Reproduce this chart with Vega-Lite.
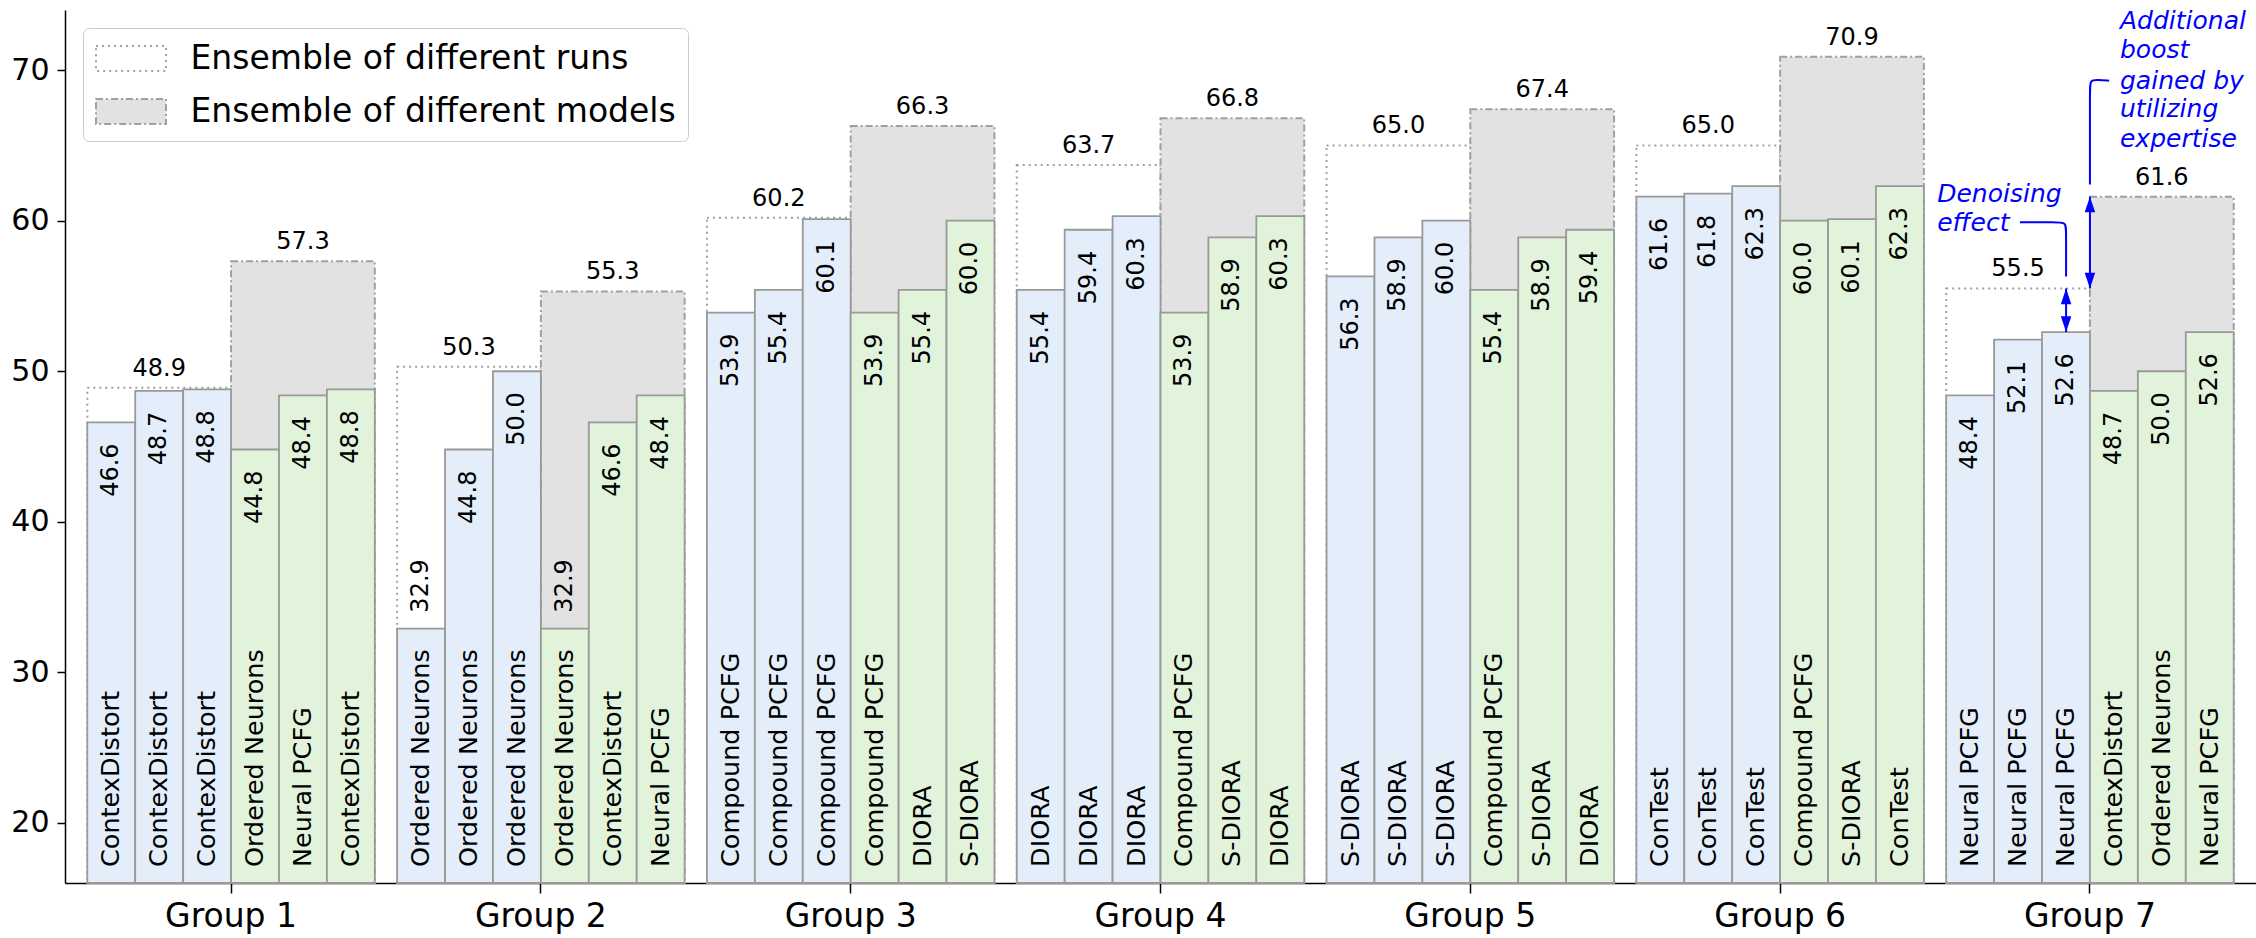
{
  "$schema": "https://vega.github.io/schema/vega-lite/v6.json",
  "autosize": {"type": "none"},
  "padding": {"left": 65, "top": 10, "right": 0, "bottom": 55},
  "width": 2191,
  "height": 873,
  "datasets": {
    "bars": [
      {"group": "Group 1", "slot": 0, "kind": "runs", "model": "ContexDistort", "value": 46.6},
      {"group": "Group 1", "slot": 1, "kind": "runs", "model": "ContexDistort", "value": 48.7},
      {"group": "Group 1", "slot": 2, "kind": "runs", "model": "ContexDistort", "value": 48.8},
      {"group": "Group 1", "slot": 3, "kind": "models", "model": "Ordered Neurons", "value": 44.8},
      {"group": "Group 1", "slot": 4, "kind": "models", "model": "Neural PCFG", "value": 48.4},
      {"group": "Group 1", "slot": 5, "kind": "models", "model": "ContexDistort", "value": 48.8},
      {"group": "Group 2", "slot": 0, "kind": "runs", "model": "Ordered Neurons", "value": 32.9},
      {"group": "Group 2", "slot": 1, "kind": "runs", "model": "Ordered Neurons", "value": 44.8},
      {"group": "Group 2", "slot": 2, "kind": "runs", "model": "Ordered Neurons", "value": 50.0},
      {"group": "Group 2", "slot": 3, "kind": "models", "model": "Ordered Neurons", "value": 32.9},
      {"group": "Group 2", "slot": 4, "kind": "models", "model": "ContexDistort", "value": 46.6},
      {"group": "Group 2", "slot": 5, "kind": "models", "model": "Neural PCFG", "value": 48.4},
      {"group": "Group 3", "slot": 0, "kind": "runs", "model": "Compound PCFG", "value": 53.9},
      {"group": "Group 3", "slot": 1, "kind": "runs", "model": "Compound PCFG", "value": 55.4},
      {"group": "Group 3", "slot": 2, "kind": "runs", "model": "Compound PCFG", "value": 60.1},
      {"group": "Group 3", "slot": 3, "kind": "models", "model": "Compound PCFG", "value": 53.9},
      {"group": "Group 3", "slot": 4, "kind": "models", "model": "DIORA", "value": 55.4},
      {"group": "Group 3", "slot": 5, "kind": "models", "model": "S-DIORA", "value": 60.0},
      {"group": "Group 4", "slot": 0, "kind": "runs", "model": "DIORA", "value": 55.4},
      {"group": "Group 4", "slot": 1, "kind": "runs", "model": "DIORA", "value": 59.4},
      {"group": "Group 4", "slot": 2, "kind": "runs", "model": "DIORA", "value": 60.3},
      {"group": "Group 4", "slot": 3, "kind": "models", "model": "Compound PCFG", "value": 53.9},
      {"group": "Group 4", "slot": 4, "kind": "models", "model": "S-DIORA", "value": 58.9},
      {"group": "Group 4", "slot": 5, "kind": "models", "model": "DIORA", "value": 60.3},
      {"group": "Group 5", "slot": 0, "kind": "runs", "model": "S-DIORA", "value": 56.3},
      {"group": "Group 5", "slot": 1, "kind": "runs", "model": "S-DIORA", "value": 58.9},
      {"group": "Group 5", "slot": 2, "kind": "runs", "model": "S-DIORA", "value": 60.0},
      {"group": "Group 5", "slot": 3, "kind": "models", "model": "Compound PCFG", "value": 55.4},
      {"group": "Group 5", "slot": 4, "kind": "models", "model": "S-DIORA", "value": 58.9},
      {"group": "Group 5", "slot": 5, "kind": "models", "model": "DIORA", "value": 59.4},
      {"group": "Group 6", "slot": 0, "kind": "runs", "model": "ConTest", "value": 61.6},
      {"group": "Group 6", "slot": 1, "kind": "runs", "model": "ConTest", "value": 61.8},
      {"group": "Group 6", "slot": 2, "kind": "runs", "model": "ConTest", "value": 62.3},
      {"group": "Group 6", "slot": 3, "kind": "models", "model": "Compound PCFG", "value": 60.0},
      {"group": "Group 6", "slot": 4, "kind": "models", "model": "S-DIORA", "value": 60.1},
      {"group": "Group 6", "slot": 5, "kind": "models", "model": "ConTest", "value": 62.3},
      {"group": "Group 7", "slot": 0, "kind": "runs", "model": "Neural PCFG", "value": 48.4},
      {"group": "Group 7", "slot": 1, "kind": "runs", "model": "Neural PCFG", "value": 52.1},
      {"group": "Group 7", "slot": 2, "kind": "runs", "model": "Neural PCFG", "value": 52.6},
      {"group": "Group 7", "slot": 3, "kind": "models", "model": "ContexDistort", "value": 48.7},
      {"group": "Group 7", "slot": 4, "kind": "models", "model": "Ordered Neurons", "value": 50.0},
      {"group": "Group 7", "slot": 5, "kind": "models", "model": "Neural PCFG", "value": 52.6}
    ],
    "ensembles": [
      {"group": "Group 1", "ensemble": "Ensemble of different runs", "value": 48.9},
      {"group": "Group 1", "ensemble": "Ensemble of different models", "value": 57.3},
      {"group": "Group 2", "ensemble": "Ensemble of different runs", "value": 50.3},
      {"group": "Group 2", "ensemble": "Ensemble of different models", "value": 55.3},
      {"group": "Group 3", "ensemble": "Ensemble of different runs", "value": 60.2},
      {"group": "Group 3", "ensemble": "Ensemble of different models", "value": 66.3},
      {"group": "Group 4", "ensemble": "Ensemble of different runs", "value": 63.7},
      {"group": "Group 4", "ensemble": "Ensemble of different models", "value": 66.8},
      {"group": "Group 5", "ensemble": "Ensemble of different runs", "value": 65.0},
      {"group": "Group 5", "ensemble": "Ensemble of different models", "value": 67.4},
      {"group": "Group 6", "ensemble": "Ensemble of different runs", "value": 65.0},
      {"group": "Group 6", "ensemble": "Ensemble of different models", "value": 70.9},
      {"group": "Group 7", "ensemble": "Ensemble of different runs", "value": 55.5},
      {"group": "Group 7", "ensemble": "Ensemble of different models", "value": 61.6}
    ],
    "notes": [
      {"text": "Denoising", "x": 6.507, "y": 61.76},
      {"text": "effect", "x": 6.507, "y": 59.84},
      {"text": "Additional", "x": 7.097, "y": 73.3},
      {"text": "boost", "x": 7.097, "y": 71.36},
      {"text": "gained by", "x": 7.097, "y": 69.3},
      {"text": "utilizing", "x": 7.097, "y": 67.4},
      {"text": "expertise", "x": 7.097, "y": 65.4}
    ],
    "connectors": [
      {"id": "denoise", "o": 0, "x": 6.774, "y": 59.9},
      {"id": "denoise", "o": 1, "x": 6.89, "y": 59.9},
      {"id": "denoise", "o": 2, "x": 6.923, "y": 59.9},
      {"id": "denoise", "o": 3, "x": 6.923, "y": 59.3},
      {"id": "denoise", "o": 4, "x": 6.923, "y": 56.3},
      {"id": "boost", "o": 0, "x": 7.0, "y": 62.4},
      {"id": "boost", "o": 1, "x": 7.0, "y": 68.7},
      {"id": "boost", "o": 2, "x": 7.0, "y": 69.35},
      {"id": "boost", "o": 3, "x": 7.025, "y": 69.35},
      {"id": "boost", "o": 4, "x": 7.062, "y": 69.3}
    ],
    "arrows": [
      {"x": 6.923, "low": 52.6, "high": 55.5},
      {"x": 7.0, "low": 55.5, "high": 61.6}
    ]
  },
  "layer": [
    {
      "resolve": {"scale": {"xOffset": "independent"}},
      "layer": [
        {
          "data": {"name": "ensembles"},
          "mark": {"type": "bar", "stroke": "#a0a0a0", "strokeWidth": 2},
          "encoding": {
            "x": {
              "field": "group", "type": "nominal", "title": null,
              "scale": {"paddingInner": 0.072, "paddingOuter": 0.072},
              "axis": {"labelAngle": 0, "tickSize": 10, "labelPadding": 7, "labelFontSize": 33}
            },
            "xOffset": {
              "field": "ensemble", "type": "nominal",
              "scale": {"domain": ["Ensemble of different runs", "Ensemble of different models"], "paddingInner": 0, "paddingOuter": 0}
            },
            "y": {
              "field": "value", "type": "quantitative", "title": null,
              "scale": {"domain": [16, 74], "nice": false, "zero": false},
              "axis": {"values": [20, 30, 40, 50, 60, 70], "tickSize": 8, "labelPadding": 8}
            },
            "y2": {"datum": 16},
            "fill": {
              "field": "ensemble", "type": "nominal", "title": null,
              "scale": {"domain": ["Ensemble of different runs", "Ensemble of different models"], "range": ["#ffffff", "#e2e2e2"]},
              "legend": {
                "symbolStrokeColor": "#a0a0a0",
                "symbolStrokeWidth": 2,
                "encode": {"symbols": {"update": {"stroke": {"value": "#a0a0a0"}, "strokeWidth": {"value": 2}}}}
              }
            },
            "strokeDash": {
              "field": "ensemble", "type": "nominal", "title": null,
              "scale": {"domain": ["Ensemble of different runs", "Ensemble of different models"], "range": [[2, 4], [7, 3, 2, 3]]},
              "legend": {
                "symbolStrokeColor": "#a0a0a0",
                "symbolStrokeWidth": 2,
                "encode": {"symbols": {"update": {"stroke": {"value": "#a0a0a0"}, "strokeWidth": {"value": 2}}}}
              }
            }
          }
        },
        {
          "data": {"name": "ensembles"},
          "mark": {"type": "text", "baseline": "bottom", "dy": -7, "fontSize": 24, "color": "#000000"},
          "encoding": {
            "x": {"field": "group", "type": "nominal", "title": null},
            "xOffset": {
              "field": "ensemble", "type": "nominal",
              "scale": {"type": "point", "padding": 0.5, "domain": ["Ensemble of different runs", "Ensemble of different models"]}
            },
            "y": {"field": "value", "type": "quantitative", "title": null},
            "text": {"field": "value", "type": "quantitative", "format": ".1f"}
          }
        },
        {
          "data": {"name": "bars"},
          "transform": [{"filter": "datum.kind === 'runs'"}],
          "mark": {"type": "bar", "fill": "#e3eefa", "stroke": "#999999", "strokeWidth": 1.8},
          "encoding": {
            "x": {"field": "group", "type": "nominal", "title": null},
            "xOffset": {"field": "slot", "type": "ordinal", "scale": {"domain": [0, 1, 2, 3, 4, 5], "paddingInner": 0, "paddingOuter": 0}},
            "y": {"field": "value", "type": "quantitative", "title": null},
            "y2": {"datum": 16}
          }
        },
        {
          "data": {"name": "bars"},
          "transform": [{"filter": "datum.kind === 'models'"}],
          "mark": {"type": "bar", "fill": "#e2f3db", "stroke": "#999999", "strokeWidth": 1.8},
          "encoding": {
            "x": {"field": "group", "type": "nominal", "title": null},
            "xOffset": {"field": "slot", "type": "ordinal", "scale": {"domain": [0, 1, 2, 3, 4, 5], "paddingInner": 0, "paddingOuter": 0}},
            "y": {"field": "value", "type": "quantitative", "title": null},
            "y2": {"datum": 16}
          }
        },
        {
          "data": {"name": "bars"},
          "transform": [{"filter": "datum.value >= 35"}],
          "mark": {"type": "text", "angle": 270, "align": "right", "baseline": "middle", "dx": -21, "fontSize": 24, "color": "#000000"},
          "encoding": {
            "x": {"field": "group", "type": "nominal", "title": null},
            "xOffset": {"field": "slot", "type": "ordinal", "scale": {"type": "point", "padding": 0.5, "domain": [0, 1, 2, 3, 4, 5]}},
            "y": {"field": "value", "type": "quantitative", "title": null},
            "text": {"field": "value", "type": "quantitative", "format": ".1f"}
          }
        },
        {
          "data": {"name": "bars"},
          "transform": [{"filter": "datum.value < 35"}],
          "mark": {"type": "text", "angle": 270, "align": "left", "baseline": "middle", "dx": 16, "fontSize": 24, "color": "#000000"},
          "encoding": {
            "x": {"field": "group", "type": "nominal", "title": null},
            "xOffset": {"field": "slot", "type": "ordinal", "scale": {"type": "point", "padding": 0.5, "domain": [0, 1, 2, 3, 4, 5]}},
            "y": {"field": "value", "type": "quantitative", "title": null},
            "text": {"field": "value", "type": "quantitative", "format": ".1f"}
          }
        },
        {
          "data": {"name": "bars"},
          "mark": {"type": "text", "angle": 270, "align": "left", "baseline": "middle", "dx": 16, "fontSize": 25.5, "color": "#000000"},
          "encoding": {
            "x": {"field": "group", "type": "nominal", "title": null},
            "xOffset": {"field": "slot", "type": "ordinal", "scale": {"type": "point", "padding": 0.5, "domain": [0, 1, 2, 3, 4, 5]}},
            "y": {"datum": 16},
            "text": {"field": "model", "type": "nominal"}
          }
        }
      ]
    },
    {
      "layer": [
        {
          "data": {"name": "connectors"},
          "mark": {"type": "line", "interpolate": "basis", "color": "#0000ff", "strokeWidth": 2},
          "encoding": {
            "x": {"field": "x", "type": "quantitative", "axis": null, "scale": {"domain": [0.464, 7.536], "nice": false, "zero": false}},
            "y": {"field": "y", "type": "quantitative", "title": null},
            "detail": {"field": "id", "type": "nominal"},
            "order": {"field": "o", "type": "quantitative"}
          }
        },
        {
          "data": {"name": "arrows"},
          "mark": {"type": "rule", "color": "#0000ff", "strokeWidth": 2},
          "encoding": {
            "x": {"field": "x", "type": "quantitative", "axis": null, "scale": {"domain": [0.464, 7.536], "nice": false, "zero": false}},
            "y": {"field": "low", "type": "quantitative", "title": null},
            "y2": {"field": "high"}
          }
        },
        {
          "data": {"name": "arrows"},
          "mark": {"type": "point", "shape": "M0,0L-1,3L1,3Z", "size": 110, "filled": true, "color": "#0000ff", "opacity": 1},
          "encoding": {
            "x": {"field": "x", "type": "quantitative", "axis": null, "scale": {"domain": [0.464, 7.536], "nice": false, "zero": false}},
            "y": {"field": "high", "type": "quantitative", "title": null}
          }
        },
        {
          "data": {"name": "arrows"},
          "mark": {"type": "point", "shape": "M0,0L-1,-3L1,-3Z", "size": 110, "filled": true, "color": "#0000ff", "opacity": 1},
          "encoding": {
            "x": {"field": "x", "type": "quantitative", "axis": null, "scale": {"domain": [0.464, 7.536], "nice": false, "zero": false}},
            "y": {"field": "low", "type": "quantitative", "title": null}
          }
        },
        {
          "data": {"name": "notes"},
          "mark": {"type": "text", "align": "left", "baseline": "middle", "fontSize": 25, "fontStyle": "italic", "color": "#0000ff"},
          "encoding": {
            "x": {"field": "x", "type": "quantitative", "axis": null, "scale": {"domain": [0.464, 7.536], "nice": false, "zero": false}},
            "y": {"field": "y", "type": "quantitative", "title": null},
            "text": {"field": "text", "type": "nominal"}
          }
        }
      ]
    }
  ],
  "resolve": {"scale": {"x": "independent"}},
  "config": {
    "view": {"stroke": null},
    "font": "DejaVu Sans",
    "axis": {
      "grid": false,
      "domainColor": "#000000",
      "domainWidth": 1.5,
      "tickColor": "#000000",
      "tickWidth": 1.5,
      "labelColor": "#000000",
      "labelFont": "DejaVu Sans",
      "labelFontSize": 30
    },
    "legend": {
      "orient": "top-left",
      "offset": 18,
      "padding": 12,
      "rowPadding": 17,
      "fillColor": "#ffffff",
      "strokeColor": "#cccccc",
      "cornerRadius": 6,
      "labelFont": "DejaVu Sans",
      "labelFontSize": 33,
      "labelColor": "#000000",
      "labelLimit": 900,
      "labelOffset": 41,
      "symbolType": "M-2,-0.72H2V0.72H-2Z",
      "symbolSize": 1225,
      "symbolOffset": 17.5,
      "symbolStrokeColor": "#a0a0a0",
      "symbolStrokeWidth": 2
    }
  }
}
